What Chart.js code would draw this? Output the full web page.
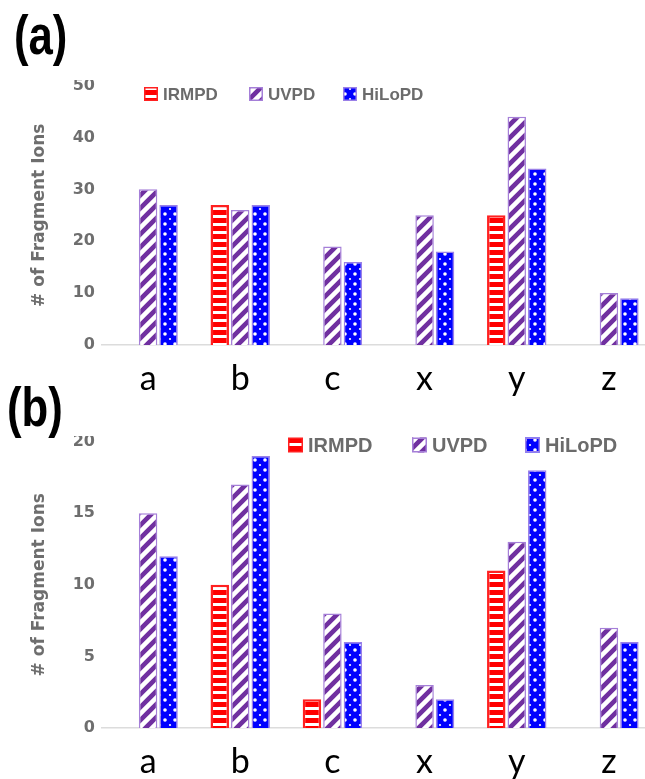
<!DOCTYPE html>
<html>
<head>
<meta charset="utf-8">
<script src="https://cdn.jsdelivr.net/npm/chart.js@4.4.1/dist/chart.umd.min.js"></script>
<style>
  html, body { margin: 0; padding: 0; background: #fff; }
  body { width: 645px; height: 779px; overflow: hidden; position: relative; }
  .panel-label {
    position: absolute;
    font: bold 56px "Liberation Sans", Arial, sans-serif;
    line-height: 56px;
    color: #000;
    transform: scaleX(0.78);
    transform-origin: left top;
  }
  .wrap { position: absolute; left: 0; width: 655px; overflow: hidden; }
  .wrap canvas { position: absolute; left: 0; top: -11px; }
</style>
</head>
<body>
<div class="panel-label" style="left:14px; top:7px;">(a)</div>
<div class="wrap" style="top:80px; height:330px;">
  <canvas id="chartA" width="655" height="336"></canvas>
</div>
<div class="panel-label" style="left:7px; top:379px;">(b)</div>
<div class="wrap" style="top:436px; height:352px;">
  <canvas id="chartB" width="655" height="363"></canvas>
</div>

<script>
// --- data ---
const categories = ['a', 'b', 'c', 'x', 'y', 'z'];
const seriesNames = ['IRMPD', 'UVPD', 'HiLoPD'];

// panel (a)
const irmpdA  = [null, 27, null, null, 25, null];
const uvpdA   = [30, 26, 19, 25, 44, 10];
const hilopdA = [27, 27, 16, 18, 34, 9];
const ticksA  = [0, 10, 20, 30, 40, 50];

// panel (b)
const irmpdB  = [null, 10, 2, null, 11, null];
const uvpdB   = [15, 17, 8, 3, 13, 7];
const hilopdB = [12, 19, 6, 2, 18, 6];
const ticksB  = [0, 5, 10, 15, 20];

// --- fill patterns ---
function tile(w, h, paint) {
    const c = document.createElement('canvas');
    c.width = w; c.height = h;
    const g = c.getContext('2d');
    paint(g, w, h);
    return g.createPattern(c, 'repeat');
}

const redStripes = tile(8, 8, (g, w, h) => {
    g.fillStyle = '#ff0000';
    g.fillRect(0, 0, w, h);
    g.fillStyle = '#ffffff';
    g.fillRect(0, 2, w, 3);
});

const purpleDiagonal = tile(13, 13, (g, w, h) => {
    g.fillStyle = '#7030a0';
    g.fillRect(0, 0, w, h);
    g.strokeStyle = '#ffffff';
    g.lineWidth = 4.5;
    g.beginPath();
    g.moveTo(-2, h + 2); g.lineTo(w + 2, -2);
    g.moveTo(-2, 2); g.lineTo(2, -2);
    g.moveTo(w - 2, h + 2); g.lineTo(w + 2, h - 2);
    g.stroke();
});

const blueDots = tile(10, 10, (g, w, h) => {
    g.fillStyle = '#0000ff';
    g.fillRect(0, 0, w, h);
    g.fillStyle = '#ffffff';
    g.beginPath();
    g.arc(5, 5, 1.8, 0, Math.PI * 2);
    g.fill();
    [[0, 0], [w, 0], [0, h], [w, h]].forEach(([px, py]) => {
        g.beginPath();
        g.arc(px, py, 1.1, 0, Math.PI * 2);
        g.fill();
    });
});

const fills   = [redStripes, purpleDiagonal, blueDots];
const borders = ['#ff2020', '#a57fd8', '#9a80e8'];
const borderW = [2.5, 1.5, 1.5];

// legend drawn over the top of the plot area
const innerLegend = {
    id: 'innerLegend',
    afterDraw(chart, args, opts) {
        const ctx = chart.ctx;
        ctx.save();
        ctx.font = opts.font;
        ctx.textBaseline = 'middle';
        chart.data.datasets.forEach((ds, i) => {
            const x = opts.x[i];
            const y = opts.y;
            const s = opts.box;
            ctx.fillStyle = ds.backgroundColor;
            ctx.fillRect(x, y - s / 2, s, s);
            ctx.strokeStyle = ds.borderColor;
            ctx.lineWidth = 1.5;
            ctx.strokeRect(x + 0.75, y - s / 2 + 0.75, s - 1.5, s - 1.5);
            ctx.fillStyle = '#6b6b6b';
            ctx.fillText(ds.label, x + s + 5, y + 1);
        });
        ctx.restore();
    }
};

function buildChart(id, seriesData, tickValues, legendOpts) {
    const datasets = seriesData.map((values, i) => ({
        label: seriesNames[i],
        data: values,
        backgroundColor: fills[i],
        borderColor: borders[i],
        borderWidth: borderW[i],
        categoryPercentage: 0.667,
        barPercentage: 0.9
    }));

    return new Chart(document.getElementById(id), {
        type: 'bar',
        data: { labels: categories, datasets: datasets },
        plugins: [innerLegend],
        options: {
            responsive: false,
            animation: false,
            devicePixelRatio: 1,
            layout: { padding: 0 },
            plugins: {
                legend: { display: false },
                tooltip: { enabled: false },
                innerLegend: legendOpts
            },
            scales: {
                x: {
                    grid: { display: false, drawTicks: false },
                    border: { display: true, color: '#dcdcdc', width: 1.5 },
                    ticks: {
                        color: '#000',
                        padding: 14,
                        font: { family: 'Lato', size: 34 }
                    },
                    afterFit: (scale) => { scale.height = 60; }
                },
                y: {
                    min: tickValues[0],
                    max: tickValues[tickValues.length - 1],
                    afterBuildTicks: (scale) => {
                        scale.ticks = tickValues.map(v => ({ value: v }));
                    },
                    grid: { display: false, drawTicks: false },
                    border: { display: false },
                    ticks: {
                        color: '#6e6e6e',
                        padding: 7,
                        font: { family: 'DejaVu Sans', size: 16, weight: 'bold' }
                    },
                    title: {
                        display: true,
                        text: '# of Fragment Ions',
                        color: '#6e6e6e',
                        padding: { top: 29, bottom: 0 },
                        font: { family: 'DejaVu Sans', size: 17, weight: 'bold' }
                    },
                    afterFit: (scale) => { scale.width = 102; }
                }
            }
        }
    });
}

buildChart('chartA', [irmpdA, uvpdA, hilopdA], ticksA, {
    x: [144, 249, 343], y: 25, box: 14,
    font: 'bold 17px "Liberation Sans", Arial, sans-serif'
});

buildChart('chartB', [irmpdB, uvpdB, hilopdB], ticksB, {
    x: [288, 412, 525], y: 20, box: 15,
    font: 'bold 20px "Liberation Sans", Arial, sans-serif'
});
</script>
</body>
</html>
